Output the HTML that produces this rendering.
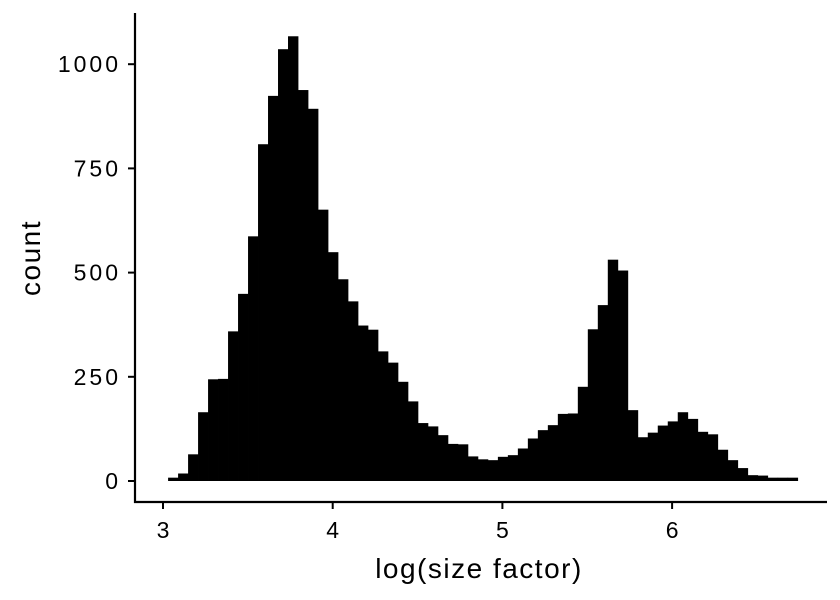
<!DOCTYPE html>
<html><head><meta charset="utf-8"><style>
body{margin:0;background:#fff;}
svg{display:block;font-family:"Liberation Sans",Arial,sans-serif;}
</style></head><body>
<svg id="chart" width="840" height="600">
<g id="bars"></g>
<g id="axes"></g>
</svg>
<script>
const counts = [8,18,64,165,244,245,359,449,587,808,924,1036,1067,938,893,651,549,484,431,373,363,311,284,238,191,139,131,110,89,88,59,52,50,58,62,78,102,122,134,161,162,226,364,422,531,505,170,105,116,133,143,165,149,118,112,75,50,31,14,13,8,8,8];
const binStart = 3.03;
const binEnd = 6.74;
const xTicks = [3,4,5,6];
const yTicks = [0,250,500,750,1000];

const NS = "http://www.w3.org/2000/svg";
function xScale(v){ return 163 + (v - 3) * 169.7; }
function yScale(v){ return 481 - v * 0.4168; }
function mk(tag, attrs, parent){ const e = document.createElementNS(NS, tag); for (const k in attrs) e.setAttribute(k, attrs[k]); parent.appendChild(e); return e; }

const bars = document.getElementById('bars');
const bw = (binEnd - binStart) / counts.length;
counts.forEach((c, i) => {
  const x0 = xScale(binStart + i * bw), x1 = xScale(binStart + (i + 1) * bw);
  const r = mk('rect', {x: x0, y: yScale(c), width: x1 - x0 + 0.4, height: yScale(0) - yScale(c), fill: '#000'}, bars);
  
  
});

const axes = document.getElementById('axes');
const yl = mk('line', {x1: 135, y1: 13, x2: 135, y2: 503, stroke: '#000', 'stroke-width': 2.2}, axes);


const xl = mk('line', {x1: 134, y1: 502, x2: 827, y2: 502, stroke: '#000', 'stroke-width': 2.2}, axes);



xTicks.forEach(t => {
  const x = xScale(t);
  const tk = mk('line', {x1: x, y1: 502, x2: x, y2: 509, stroke: '#000', 'stroke-width': 2}, axes);
  
  
  const tx = mk('text', {x: x, y: 538, 'text-anchor': 'middle', 'font-size': 23, fill: '#000'}, axes);
  tx.textContent = t;
  
  
});
yTicks.forEach(t => {
  const y = yScale(t);
  const tk = mk('line', {x1: 128, y1: y, x2: 135, y2: y, stroke: '#000', 'stroke-width': 2}, axes);
  
  
  const tx = mk('text', {x: 121, y: y + 8, 'text-anchor': 'end', 'font-size': 23, 'letter-spacing': 3, fill: '#000'}, axes);
  tx.textContent = t;
  
  
});
const xt = mk('text', {x: 479, y: 578, 'text-anchor': 'middle', 'font-size': 28, 'letter-spacing': 1.5, fill: '#000'}, axes);
xt.textContent = 'log(size factor)';


const yt = mk('text', {x: 0, y: 0, 'text-anchor': 'middle', 'font-size': 28, 'letter-spacing': 1.5, fill: '#000', transform: 'translate(40,258) rotate(-90)'}, axes);
yt.textContent = 'count';


</script>
</body></html>
